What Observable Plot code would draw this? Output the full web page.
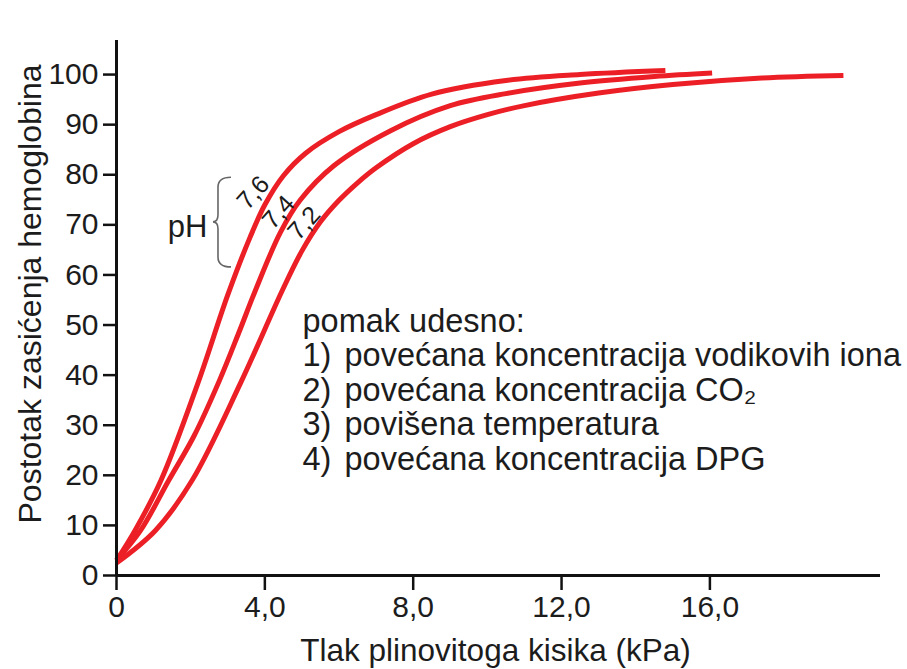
<!DOCTYPE html>
<html>
<head>
<meta charset="utf-8">
<script src="https://cdn.jsdelivr.net/npm/d3@7"></script>
<script src="https://cdn.jsdelivr.net/npm/@observablehq/plot@0.6"></script>
<style>
  html, body { margin: 0; padding: 0; background: #fff; }
  #chart svg { display: block; }
</style>
</head>
<body>
<div id="chart"></div>
<script>
// ---- Data ----
const xTicks = [0, 4, 8, 12, 16];
const xTickLabels = ["0", "4,0", "8,0", "12,0", "16,0"];
const yTicks = [0, 10, 20, 30, 40, 50, 60, 70, 80, 90, 100];

// pH 7,6 curve (kPa, % saturation)
const pO2_76 = [0, 0.5, 1.2, 2.2, 3.0, 3.6, 4.0, 4.5, 5.1, 6.0, 7.0, 8.5, 10.5, 12.5, 14.8];
const sat_76 = [3, 9, 19, 38.5, 56, 67.5, 74, 79.8, 84.3, 88.6, 92, 96.1, 98.8, 100, 100.8];
// pH 7,4 curve
const pO2_74 = [0, 0.65, 1.41, 2.1, 2.78, 3.3, 3.75, 4.42, 4.96, 5.86, 7.39, 9.0, 10.5, 12.5, 14.5, 16.06];
const sat_74 = [3, 9, 19, 28, 39, 48.5, 57, 68.5, 75, 81.8, 88.8, 93.8, 96.2, 98.3, 99.6, 100.3];
// pH 7,2 curve
const pO2_72 = [0, 1.05, 2.04, 3.35, 4.47, 5.0, 5.5, 6.0, 6.5, 7.0, 8.0, 9.0, 10.0, 11.0, 13.0, 15.0, 17.4, 19.6];
const sat_72 = [2.5, 9, 19, 38.5, 56.9, 64.8, 70.6, 74.9, 78.4, 81.4, 86.2, 89.6, 92, 93.8, 96.3, 98, 99.3, 99.8];

const phLabels = ["7,6", "7,4", "7,2"];
const phLabelX = [3.69, 4.37, 5.06];
const phLabelY = [76.4, 72.5, 70.3];

const xTitle = "Tlak plinovitoga kisika (kPa)";
const yTitle = "Postotak zasićenja hemoglobina";
const noteHeading = "pomak udesno:";
const noteNumbers = ["1)", "2)", "3)", "4)"];
const noteItems = [
  "povećana koncentracija vodikovih iona",
  "povećana koncentracija CO₂",
  "povišena temperatura",
  "povećana koncentracija DPG"
];
const phText = "pH";
// brace annotation (kPa / %)
const brace = {x: 2.75, top: 79.4, mid: 70.5, bottom: 61.5};

// ---- Build tables ----
const curves = [
  ...pO2_76.map((x, i) => ({x, y: sat_76[i], ph: "7,6"})),
  ...pO2_74.map((x, i) => ({x, y: sat_74[i], ph: "7,4"})),
  ...pO2_72.map((x, i) => ({x, y: sat_72[i], ph: "7,2"}))
];
const labels = phLabels.map((t, i) => ({t, x: phLabelX[i], y: phLabelY[i]}));

const RED = "#ec1f26";
const INK = "#1c1c1c";

const braceMark = (index, scales) => {
  const xs = scales.x(brace.x), yt = scales.y(brace.top), ym = scales.y(brace.mid), yb = scales.y(brace.bottom);
  const p = d3.path();
  p.moveTo(xs + 13, yt);
  p.quadraticCurveTo(xs, yt, xs, yt + 10);
  p.lineTo(xs, ym - 7);
  p.quadraticCurveTo(xs, ym, xs - 5, ym);
  p.quadraticCurveTo(xs, ym, xs, ym + 7);
  p.lineTo(xs, yb - 10);
  p.quadraticCurveTo(xs, yb, xs + 13, yb);
  return d3.create("svg:path")
    .attr("d", p.toString())
    .attr("fill", "none")
    .attr("stroke", "#666")
    .attr("stroke-width", 1.6)
    .node();
};

const chart = Plot.plot({
  width: 907,
  height: 669,
  marginLeft: 116,
  marginRight: 27,
  marginTop: 40,
  marginBottom: 94,
  style: {fontFamily: "'Liberation Sans', Arial, Helvetica, sans-serif", color: INK, background: "#fff"},
  x: {domain: [0, 20.6], axis: null},
  y: {domain: [0, 106.8], axis: null},
  marks: [
    Plot.line(curves, {x: "x", y: "y", z: "ph", stroke: RED, strokeWidth: 5, curve: "catmull-rom", strokeLinecap: "butt"}),
    Plot.axisX(xTicks, {anchor: "bottom", tickSize: 15, tickPadding: 5, fontSize: 30, strokeWidth: 2.5, stroke: "#111", label: null, tickFormat: (d) => xTickLabels[xTicks.indexOf(d)]}),
    Plot.axisY(yTicks, {anchor: "left", tickSize: 13, tickPadding: 5, fontSize: 30, strokeWidth: 2.5, stroke: "#111", label: null}),
    Plot.ruleX([0], {stroke: "#111", strokeWidth: 3}),
    Plot.ruleY([0], {stroke: "#111", strokeWidth: 3}),
    Plot.text(labels, {x: "x", y: "y", text: "t", rotate: -48, fontSize: 25, fill: INK}),
    Plot.text([phText], {x: brace.x - 0.3, y: brace.mid, dy: 5, text: d => d, textAnchor: "end", fontSize: 31, fill: INK}),
    braceMark,
    Plot.text([[noteHeading, ...noteNumbers].join("\n")], {frameAnchor: "top-left", dx: 186, dy: 267, text: d => d, textAnchor: "start", lineAnchor: "top", lineHeight: 1.06, fontSize: 32.5, fill: INK}),
    Plot.text([["", ...noteItems].join("\n")], {frameAnchor: "top-left", dx: 228, dy: 267, text: d => d, textAnchor: "start", lineAnchor: "top", lineHeight: 1.06, fontSize: 32.5, fill: INK}),
    Plot.text([xTitle], {frameAnchor: "bottom", dy: 85, dx: -3, text: d => d, textAnchor: "middle", lineAnchor: "bottom", fontSize: 31.5, fill: INK}),
    Plot.text([yTitle], {frameAnchor: "left", dx: -86, dy: -14, rotate: -90, text: d => d, textAnchor: "middle", lineAnchor: "middle", fontSize: 32, fill: INK})
  ]
});
document.getElementById("chart").appendChild(chart);
</script>
</body>
</html>
